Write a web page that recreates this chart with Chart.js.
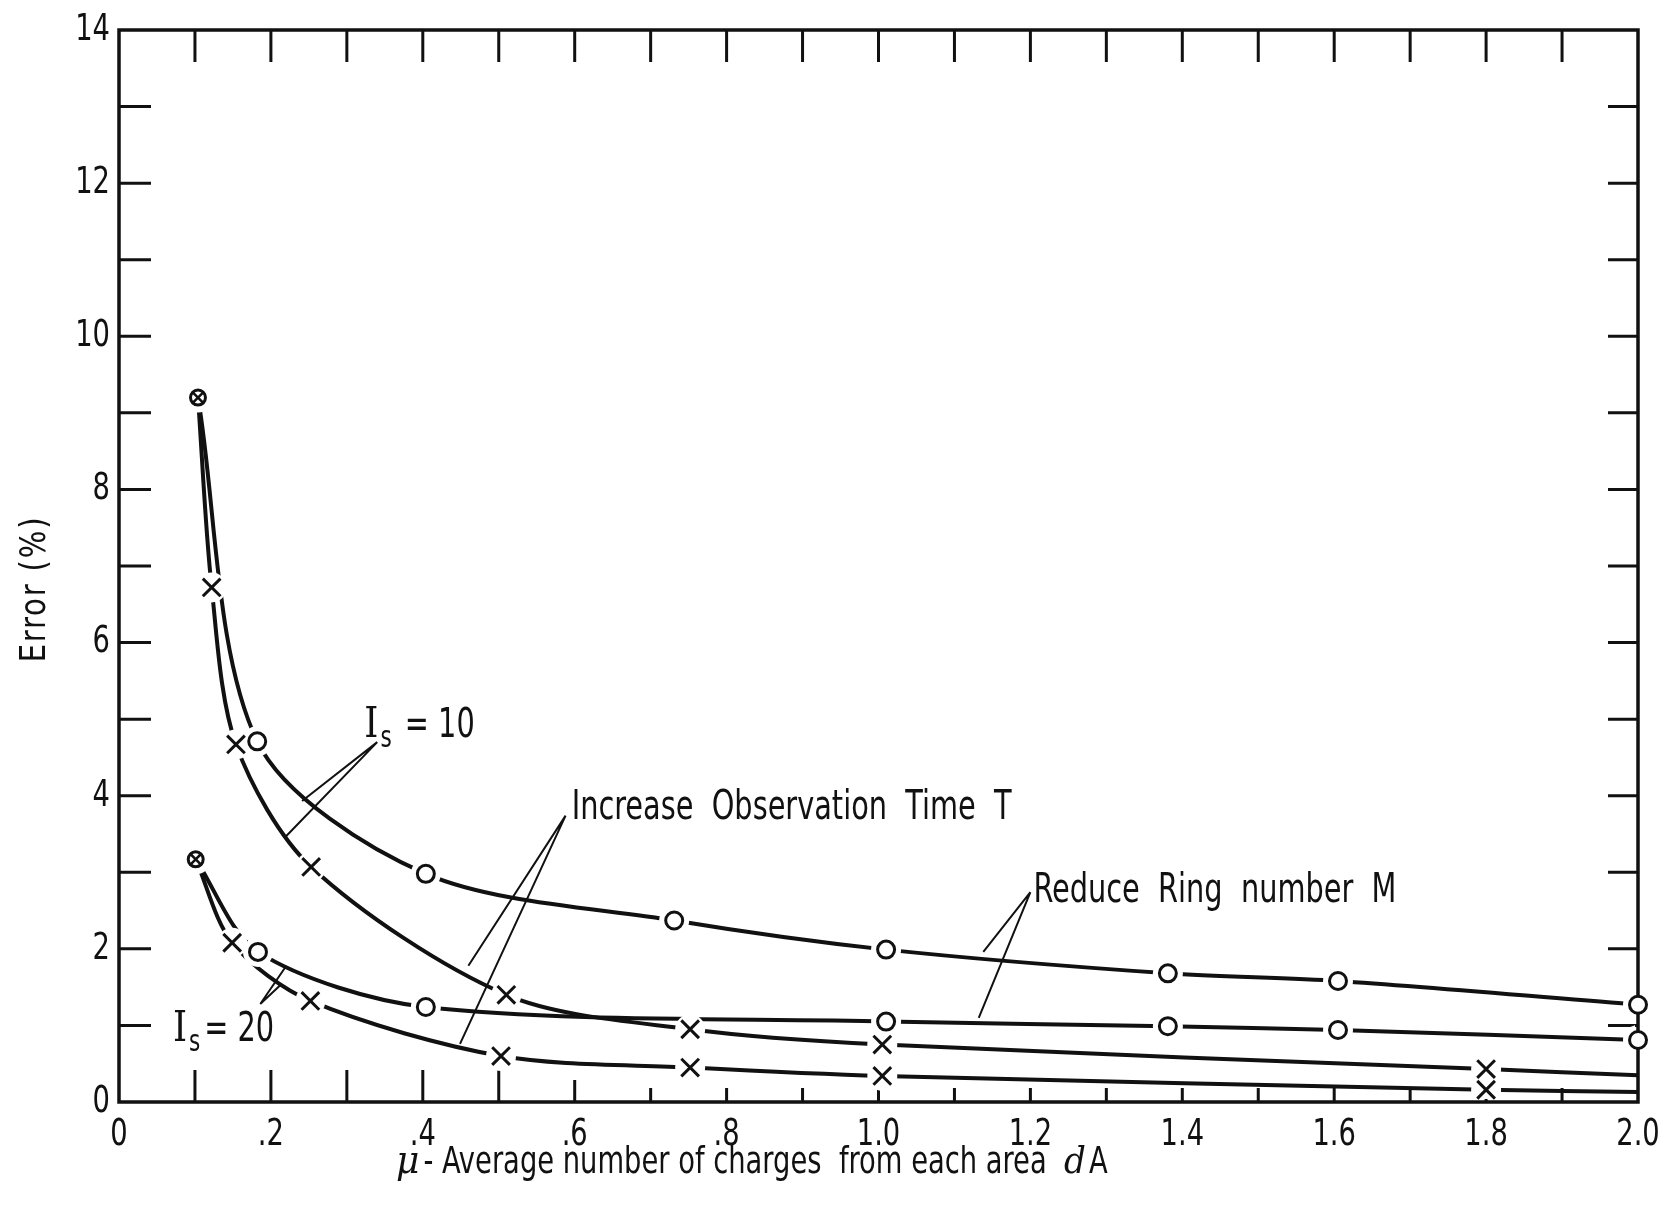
<!DOCTYPE html>
<html>
<head>
<meta charset="utf-8">
<script src="https://cdn.jsdelivr.net/npm/chart.js@4.4.0/dist/chart.umd.min.js"></script>
<style>
  html, body { margin: 0; padding: 0; background: #fff; }
</style>
</head>
<body>
<canvas id="chart" width="1679" height="1214"></canvas>
<script>
// values (error % vs mu)
// Is = 10, reduce ring number M (circles)
const ringX10 = [0.104, 0.182, 0.404, 0.731, 1.01, 1.381, 1.605, 2.0];
const ringY10 = [9.20, 4.71, 2.98, 2.37, 1.99, 1.68, 1.58, 1.27];
// Is = 10, increase observation time T (crosses)
const timeX10 = [0.104, 0.122, 0.154, 0.253, 0.51, 0.752, 1.005, 1.80, 2.0];
const timeY10 = [9.20, 6.72, 4.67, 3.07, 1.40, 0.95, 0.75, 0.43, 0.35];
// Is = 20, reduce ring number M (circles)
const ringX20 = [0.101, 0.183, 0.404, 1.01, 1.381, 1.605, 2.0];
const ringY20 = [3.17, 1.96, 1.24, 1.05, 0.99, 0.94, 0.81];
// Is = 20, increase observation time T (crosses)
const timeX20 = [0.101, 0.149, 0.252, 0.503, 0.752, 1.005, 1.80, 2.0];
const timeY20 = [3.17, 2.08, 1.32, 0.60, 0.45, 0.34, 0.16, 0.13];

const xTickVals = [0, 0.2, 0.4, 0.6, 0.8, 1.0, 1.2, 1.4, 1.6, 1.8, 2.0];
const xTickLabels = ['0', '.2', '.4', '.6', '.8', '1.0', '1.2', '1.4', '1.6', '1.8', '2.0'];
const yTickVals = [0, 2, 4, 6, 8, 10, 12, 14];
const yTickLabels = ['0', '2', '4', '6', '8', '10', '12', '14'];
const xMinor = [0.1, 0.2, 0.3, 0.4, 0.5, 0.6, 0.7, 0.8, 0.9, 1.0, 1.1, 1.2, 1.3, 1.4, 1.5, 1.6, 1.7, 1.8, 1.9];
const yMinor = [1, 2, 3, 4, 5, 6, 7, 8, 9, 10, 11, 12, 13];

// callouts, in data units
const labels = [
  {is: true, text: ' = 10', x: 0.323, y: 4.77},
  {is: true, text: '= 20', x: 0.071, y: 0.80},
  {text: 'Increase  Observation  Time  T', x: 0.596, y: 3.70},
  {text: 'Reduce  Ring  number  M', x: 1.204, y: 2.61}
];
const leaders = [
  [[0.340, 4.70], [0.241, 3.93]], [[0.340, 4.70], [0.219, 3.46]],
  [[0.186, 1.28], [0.219, 1.76]], [[0.186, 1.28], [0.213, 1.53]],
  [[0.588, 3.74], [0.460, 1.78]], [[0.588, 3.74], [0.449, 0.76]],
  [[1.200, 2.74], [1.138, 1.96]], [[1.200, 2.74], [1.132, 1.10]]
];

const FONT = "'DejaVu Sans Condensed', 'DejaVu Sans', sans-serif";
const SERIF = "'DejaVu Serif', 'Liberation Serif', serif";
const INK = '#111';
const SQ = 0.8;

function pts(xs, ys) {
  return xs.map((x, i) => ({x: x, y: ys[i]}));
}

function lineSet(xs, ys) {
  return {
    data: pts(xs, ys), showLine: true, borderColor: INK, borderWidth: 4,
    pointRadius: 0, tension: 0.3, clip: false, order: 3
  };
}

// white disc behind each marker so the curve breaks around it
function haloSet(xs, ys, from, to) {
  return {
    data: pts(xs.slice(from, to), ys.slice(from, to)), showLine: false,
    pointRadius: 15, pointBackgroundColor: '#fff', pointBorderWidth: 0,
    clip: -3, order: 2
  };
}

function markSet(xs, ys, from, to, style) {
  return {
    data: pts(xs.slice(from, to), ys.slice(from, to)), showLine: false,
    pointStyle: style, pointRadius: style === 'circle' ? 8.5 : 12.5,
    pointBackgroundColor: '#fff', pointBorderColor: INK, pointBorderWidth: 3,
    clip: false, order: 1
  };
}

const startX = [ringX10[0], ringX20[0]];
const startY = [ringY10[0], ringY20[0]];

const datasets = [
  lineSet(ringX10, ringY10), lineSet(timeX10, timeY10),
  lineSet(ringX20, ringY20), lineSet(timeX20, timeY20),
  haloSet(ringX10, ringY10, 0), haloSet(timeX10, timeY10, 1, -1),
  haloSet(ringX20, ringY20, 0), haloSet(timeX20, timeY20, 1, -1),
  markSet(ringX10, ringY10, 1, undefined, 'circle'), markSet(timeX10, timeY10, 1, -1, 'crossRot'),
  markSet(ringX20, ringY20, 1, undefined, 'circle'), markSet(timeX20, timeY20, 1, -1, 'crossRot'),
  markSet(startX, startY, 0, undefined, 'circle'),
  markSet(startX, startY, 0, undefined, 'crossRot')
];
datasets[12].pointRadius = 7.5;
datasets[13].pointRadius = 8.5;
datasets[13].pointBorderWidth = 2.5;
datasets[13].order = 0;

// squeezed text, the original lettering is narrow
function squeezed(ctx, text, x, y, sx) {
  ctx.save();
  ctx.translate(x, y);
  ctx.scale(sx, 1);
  ctx.fillText(text, 0, 0);
  ctx.restore();
  return ctx.measureText(text).width * sx;
}

const framePlugin = {
  id: 'frame',
  beforeDatasetsDraw(chart) {
    const {ctx, chartArea: a, scales: {x, y}} = chart;
    ctx.save();
    ctx.strokeStyle = INK;
    ctx.lineWidth = 3.5;
    ctx.strokeRect(a.left, a.top, a.right - a.left, a.bottom - a.top);
    ctx.lineWidth = 3;
    ctx.beginPath();
    xMinor.forEach(v => {
      const px = x.getPixelForValue(v);
      ctx.moveTo(px, a.top);
      ctx.lineTo(px, a.top + 32);
      const len = v <= 0.55 ? 32 : (v <= 0.65 ? 22 : 14);
      ctx.moveTo(px, a.bottom);
      ctx.lineTo(px, a.bottom - len);
    });
    yMinor.forEach(v => {
      const py = y.getPixelForValue(v);
      ctx.moveTo(a.left, py);
      ctx.lineTo(a.left + 32, py);
      ctx.moveTo(a.right, py);
      ctx.lineTo(a.right - 30, py);
    });
    ctx.stroke();

    // tick labels
    ctx.fillStyle = INK;
    ctx.font = '38px ' + FONT;
    ctx.textBaseline = 'middle';
    xTickVals.forEach((v, i) => {
      const w = ctx.measureText(xTickLabels[i]).width * SQ;
      squeezed(ctx, xTickLabels[i], x.getPixelForValue(v) - w / 2, a.bottom + 33, SQ);
    });
    yTickVals.forEach((v, i) => {
      const w = ctx.measureText(yTickLabels[i]).width * SQ;
      squeezed(ctx, yTickLabels[i], a.left - 9 - w, y.getPixelForValue(v), SQ);
    });
    ctx.restore();
  },
  afterDraw(chart) {
    const {ctx, scales: {x, y}} = chart;
    ctx.save();
    ctx.fillStyle = INK;
    ctx.strokeStyle = INK;
    ctx.lineWidth = 2;
    ctx.beginPath();
    leaders.forEach(l => {
      ctx.moveTo(x.getPixelForValue(l[0][0]), y.getPixelForValue(l[0][1]));
      ctx.lineTo(x.getPixelForValue(l[1][0]), y.getPixelForValue(l[1][1]));
    });
    ctx.stroke();

    ctx.textBaseline = 'alphabetic';
    labels.forEach(l => {
      let px = x.getPixelForValue(l.x);
      const py = y.getPixelForValue(l.y);
      if (l.is) {
        ctx.font = '42px ' + SERIF;
        px += squeezed(ctx, 'I', px, py, 0.85) + 2;
        ctx.font = '30px ' + FONT;
        px += squeezed(ctx, 's', px, py + 10, SQ) + 4;
      }
      ctx.font = '40px ' + FONT;
      squeezed(ctx, l.text, px, py, SQ);
    });

    // y axis title
    ctx.save();
    ctx.translate(36, y.getPixelForValue(6.7));
    ctx.rotate(-Math.PI / 2);
    ctx.font = '36px ' + FONT;
    ctx.letterSpacing = '2px';
    ctx.textAlign = 'center';
    ctx.textBaseline = 'middle';
    ctx.scale(0.9, 1);
    ctx.fillText('Error (%)', 0, 0);
    ctx.restore();

    // x axis title
    let tx = 396;
    const ty = 1173;
    ctx.font = 'italic 40px ' + SERIF;
    tx += squeezed(ctx, '\u03bc', tx, ty, 0.9) + 4;
    ctx.font = '38px ' + FONT;
    tx += squeezed(ctx, '- Average number of charges  from each area  ', tx, ty, SQ);
    ctx.font = 'italic 38px ' + SERIF;
    tx += squeezed(ctx, 'd', tx, ty, 0.9) + 3;
    ctx.font = '38px ' + FONT;
    squeezed(ctx, 'A', tx, ty, SQ);
    ctx.restore();
  }
};

const ctx = document.getElementById('chart').getContext('2d');
const myChart = new Chart(ctx, {
  type: 'scatter',
  data: {datasets: datasets},
  options: {
    responsive: false,
    animation: false,
    events: [],
    layout: {padding: {top: 30, right: 41, left: 0, bottom: 0}},
    plugins: {legend: {display: false}, tooltip: {enabled: false}},
    scales: {
      x: {
        type: 'linear', min: 0, max: 2,
        grid: {display: false, drawTicks: false},
        border: {display: false},
        ticks: {display: false, stepSize: 0.2},
        afterFit: s => { s.height = 112; }
      },
      y: {
        type: 'linear', min: 0, max: 14,
        grid: {display: false, drawTicks: false},
        border: {display: false},
        ticks: {display: false, stepSize: 2},
        afterFit: s => { s.width = 119; }
      }
    }
  },
  plugins: [framePlugin]
});
</script>
</body>
</html>
